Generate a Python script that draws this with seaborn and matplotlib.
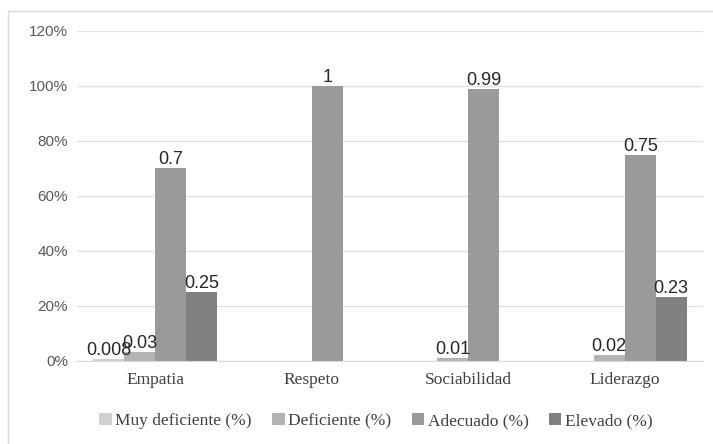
import pandas as pd
import matplotlib.pyplot as plt
import seaborn as sns
from matplotlib.patches import Rectangle
from matplotlib.ticker import PercentFormatter

categories = ['Empatia', 'Respeto', 'Sociabilidad', 'Liderazgo']
levels = ['Muy deficiente (%)', 'Deficiente (%)', 'Adecuado (%)', 'Elevado (%)']
muy_deficiente = [0.008, 0, 0, 0]
deficiente = [0.03, 0, 0.01, 0.02]
adecuado = [0.7, 1, 0.99, 0.75]
elevado = [0.25, 0, 0, 0.23]
colors = ['#d0d0d0', '#b3b3b3', '#9a9a9a', '#808080']

rows = []
for level, vals in zip(levels, [muy_deficiente, deficiente, adecuado, elevado]):
    for cat, v in zip(categories, vals):
        rows.append({'cat': cat, 'level': level, 'value': v})
df = pd.DataFrame(rows)

sns.set_style('white')
fig = plt.figure(figsize=(7.13, 4.44), dpi=100)
ax = fig.add_axes([0.108, 0.1876, 0.878, 0.743])

sns.barplot(data=df, x='cat', y='value', hue='level', order=categories,
            hue_order=levels, palette=colors, width=0.79, saturation=1,
            linewidth=0, ax=ax)

# data labels, skip empty bars
for cont in ax.containers:
    labs = [f'{b.get_height():g}' if b.get_height() > 0 else '' for b in cont]
    ax.bar_label(cont, labels=labs, padding=0, fontsize=13,
                 family='Liberation Sans', color='#262626')

ax.set_xlim(-0.5, 3.5)
ax.set_ylim(0, 1.2)
ax.set_yticks([0, 0.2, 0.4, 0.6, 0.8, 1.0, 1.2])
ax.yaxis.set_major_formatter(PercentFormatter(1.0, decimals=0))
ax.grid(axis='y', color='#e0e0e0', linewidth=1)
ax.set_axisbelow(True)
for s in ['top', 'right', 'left']:
    ax.spines[s].set_visible(False)
ax.spines['bottom'].set_color('#d9d9d9')
ax.set_xlabel('')
ax.set_ylabel('')
ax.tick_params(axis='both', length=0)
ax.tick_params(axis='y', pad=6.5)
ax.tick_params(axis='x', pad=8)
for t in ax.get_yticklabels():
    t.set_family('Liberation Sans')
    t.set_fontsize(11)
    t.set_color('#595959')
for t in ax.get_xticklabels():
    t.set_family('Liberation Serif')
    t.set_fontsize(12.5)
    t.set_color('#404040')

ax.legend(loc='center', bbox_to_anchor=(376 / 713, 1 - 421 / 444),
          bbox_transform=fig.transFigure, ncol=4,
          frameon=False, prop={'family': 'Liberation Serif', 'size': 12.5},
          handlelength=0.7, handleheight=0.7, handletextpad=0.2,
          columnspacing=1.2, labelcolor='#404040')

fig.patches.append(Rectangle((8 / 713, -0.01), 710 / 713, 1 - 11 / 444 + 0.01,
                             transform=fig.transFigure, fill=False,
                             edgecolor='#d9d9d9', linewidth=1))

fig.savefig('out.png', dpi=100)
